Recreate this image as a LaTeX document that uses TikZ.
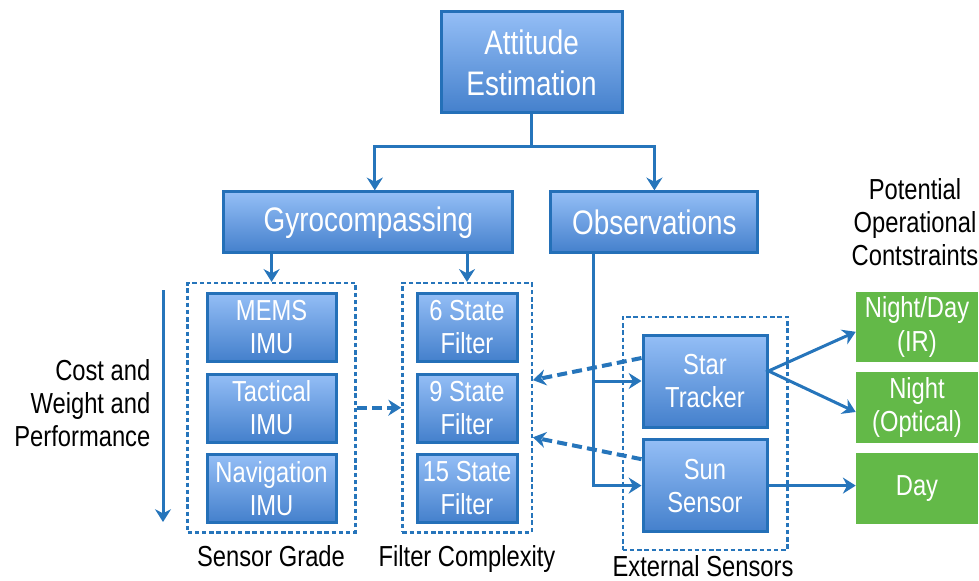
\documentclass[tikz,border=0pt]{standalone}
\usepackage{fontspec}
\setmainfont{Liberation Sans}[FakeStretch=0.82]
\usetikzlibrary{arrows.meta, positioning, fit, backgrounds}

\definecolor{lineblue}{RGB}{38,117,187}
\definecolor{boxtop}{RGB}{148,190,246}
\definecolor{boxbot}{RGB}{68,128,204}
\definecolor{boxedge}{RGB}{36,112,184}
\definecolor{okgreen}{RGB}{99,185,72}

\begin{document}
\begin{tikzpicture}[>={Stealth[length=0.32cm, width=0.4cm]},
      blk/.style={draw=boxedge, line width=0.075cm, top color=boxtop, bottom color=boxbot,
                  text=white, align=center, inner sep=0pt,
                  font=\fontsize{20.6}{23.5}\selectfont},
      bigblk/.style={blk, font=\fontsize{24.2}{29.2}\selectfont},
      imu/.style={blk, minimum width=3.225cm, minimum height=1.7cm},
      filt/.style={blk, minimum width=2.5cm, minimum height=1.7cm},
      sensor/.style={blk, minimum width=3.1cm, minimum height=2.3cm},
      cons/.style={fill=okgreen, text=white, align=center, inner sep=0pt,
                   minimum width=3.05cm, minimum height=1.76cm,
                   font=\fontsize{20.6}{23.5}\selectfont},
      grp/.style={draw=lineblue, line width=0.06cm, dash pattern=on 0.11cm off 0.07cm},
      arr/.style={->, lineblue, line width=0.075cm},
      darr/.style={arr, line width=0.1cm, dash pattern=on 0.25cm off 0.13cm},
      lbl/.style={font=\fontsize{20.6}{23.5}\selectfont, align=center, inner sep=1pt}]

    \useasboundingbox (0,0) rectangle (24.475,-14.525);

    % ============================
    % TOP OF THE TREE
    % ============================
    \node[bigblk, minimum width=4.525cm, minimum height=2.525cm] (att) at (13.29,-1.5625) {Attitude\\Estimation};
    \node[bigblk, minimum width=7.225cm, minimum height=1.525cm] (gyro) at (9.21,-5.56) {Gyrocompassing};
    \node[bigblk, minimum width=5.175cm, minimum height=1.525cm] (obs) at (16.36,-5.56) {Observations};

    \draw[lineblue, line width=0.075cm] (att.south) -- ++(0,-0.81) coordinate (split);
    \draw[arr] (split) -| ([xshift=0.16cm]gyro.north);
    \draw[arr] (split) -| (obs.north);

    % ============================
    % SENSOR GRADE / FILTER COMPLEXITY
    % ============================
    \node[imu] (mems) at (6.79,-8.175) {MEMS\\IMU};
    \node[imu] (tact) at (6.79,-10.2)  {Tactical\\IMU};
    \node[imu] (nav)  at (6.79,-12.21) {Navigation\\IMU};

    \node[filt] (f6)  at (11.675,-8.175) {6 State\\Filter};
    \node[filt] (f9)  at (11.675,-10.2)  {9 State\\Filter};
    \node[filt] (f15) at (11.675,-12.21) {15 State\\Filter};

    \node[grp, fit=(mems)(nav), inner xsep=0.45cm, inner ysep=0.21cm] (sgrp) {};
    \node[grp, fit=(f6)(f15), inner xsep=0.33cm, inner ysep=0.21cm] (fgrp) {};

    \node[lbl, anchor=base] (sglbl) at (6.775,-14.15)  {Sensor Grade};
    \node[lbl, anchor=base] (fclbl) at (11.675,-14.15) {Filter Complexity};

    \draw[arr] (gyro.south -| sgrp.north) -- (sgrp.north);
    \draw[arr] (gyro.south -| fgrp.north) -- (fgrp.north);
    \draw[darr] (sgrp.east) -- (fgrp.west);

    % cost / weight / performance scale
    \node[lbl, align=right, anchor=east] (cost) at (3.8,-10.075) {Cost and\\Weight and\\Performance};
    \coordinate (ctop) at (4.075,-7.25);
    \coordinate (cbot) at (4.075,-13.05);
    \draw[arr] (ctop) -- (cbot);

    % ============================
    % EXTERNAL SENSORS
    % ============================
    \node[sensor] (star) at (17.625,-9.525) {Star\\Tracker};
    \node[sensor] (sun)  at (17.625,-12.14) {Sun\\Sensor};
    \node[grp, fit=(star)(sun), inner xsep=0.47cm, inner ysep=0.42cm] (egrp) {};
    \node[lbl, anchor=base] (eslbl) at (17.575,-14.4) {External Sensors};

    \coordinate (drop) at ([xshift=1.1cm]obs.south west);
    \draw[arr] (drop) |- (sun.west);
    \draw[arr] (drop |- star.west) -- (star.west);

    \draw[darr] ([yshift=0.575cm]star.west) -- ([yshift=0.69cm]fgrp.east);
    \draw[darr] ([yshift=0.66cm]sun.west) -- ([yshift=-0.74cm]fgrp.east);

    % ============================
    % OPERATIONAL CONSTRAINTS
    % ============================
    \node[lbl] (potential) at (22.875,-5.55) {Potential\\Operational\\Contstraints};
    \node[cons] (nightday) at (22.925,-8.175) {Night/Day\\(IR)};
    \node[cons] (night)    at (22.925,-10.19) {Night\\(Optical)};
    \node[cons] (day)      at (22.925,-12.21) {Day};

    \coordinate (fork) at ([yshift=0.25cm]star.east);
    \draw[arr, <->] ([yshift=-0.12cm]nightday.west) -- (fork) -- ([yshift=-0.11cm]night.west);
    \draw[arr] (sun.east) -- (day.west |- sun.east);

\end{tikzpicture}
\end{document}
